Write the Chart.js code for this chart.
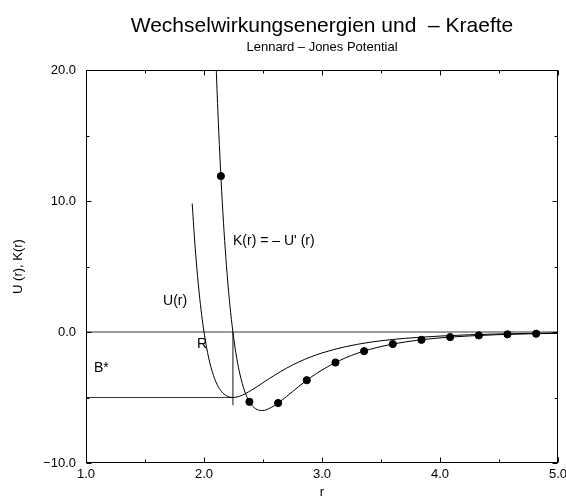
<!DOCTYPE html>
<html><head><meta charset="utf-8">
<script src="https://cdn.jsdelivr.net/npm/chart.js@4"></script>
<style>html,body{margin:0;padding:0;background:#fff}</style>
</head><body>
<canvas id="c" width="566" height="498"></canvas>
<script>
// ---- data ----
const rU    = [1.90,1.92,1.94,1.96,1.98,2.00,2.02,2.04,2.06,2.08,2.10,2.12,2.14,2.16,2.18,2.20,2.22,2.245,2.27,2.30,2.35,2.40,2.45,2.50,2.55,2.60,2.70,2.80,2.90,3.00,3.20,3.40,3.60,3.80,4.00,4.25,4.50,4.75,5.00];
const uVals = [9.81,7.09,4.81,2.91,1.32,0.00,-1.09,-1.99,-2.72,-3.31,-3.79,-4.16,-4.45,-4.66,-4.81,-4.92,-4.98,-5.00,-4.98,-4.91,-4.71,-4.45,-4.17,-3.87,-3.57,-3.29,-2.76,-2.30,-1.92,-1.60,-1.12,-0.79,-0.57,-0.42,-0.31,-0.21,-0.15,-0.11,-0.08];
const rK    = [2.08,2.10,2.12,2.14,2.16,2.18,2.20,2.22,2.245,2.27,2.30,2.35,2.40,2.45,2.50,2.55,2.60,2.70,2.80,2.90,3.00,3.20,3.40,3.60,3.80,4.00,4.25,4.50,4.75,5.00];
const kVals = [26.47,21.0,16.35,12.43,9.12,6.32,3.97,2.00,0.00,-1.59,-3.05,-4.66,-5.53,-5.92,-5.99,-5.85,-5.60,-4.92,-4.18,-3.49,-2.90,-1.97,-1.34,-0.92,-0.64,-0.45,-0.30,-0.20,-0.14,-0.10];
const rDots = [2.143,2.385,2.628,2.871,3.114,3.357,3.600,3.843,4.086,4.329,4.572,4.815];
const kDots = [11.9,-5.33,-5.42,-3.68,-2.33,-1.46,-0.92,-0.60,-0.39,-0.26,-0.18,-0.13];
const rEq = 2.245;      // position of the minimum (R*)
const bStar = -5.0;     // depth of the well (B*)
const zeroLineX = [1.0, 5.0];
const bStarLineX = [1.0, rEq];
const rEqLineY = [0.0, -5.6];
const xMajor = [1,2,3,4,5], xMinor = [1.5,2.5,3.5,4.5];
const yMajor = [-10,0,10,20], yMinor = [-5,5,15];
const titleText = "Wechselwirkungsenergien und  \u2013 Kraefte";
const subtitleText = "Lennard \u2013 Jones Potential";
const xTitle = "r", yTitle = "U (r), K(r)";
const labels = [
  {t:"K(r) = \u2013 U' (r)", x:2.246, y:6.64},
  {t:"U(r)", x:1.653, y:2.06},
  {t:"R", x:1.941, y:-1.22},
  {t:"B*", x:1.068, y:-3.05}
];

const FONT = "'Liberation Sans', Arial, Helvetica, sans-serif";
const pts = (xs, ys) => xs.map((v,i)=>({x:v, y:ys[i]}));

const framePlugin = {
  id:'frame',
  afterDraw(chart){
    const {ctx, chartArea:a, scales:{x,y}} = chart;
    ctx.save();
    ctx.strokeStyle='#000'; ctx.lineWidth=1;
    const L=Math.round(a.left)+0.5, R=Math.round(a.right)-0.5, T=Math.round(a.top)+0.5, B=Math.round(a.bottom)-0.5;
    ctx.strokeRect(L,T,R-L,B-T);
    ctx.beginPath();
    const xt=(v,len)=>{const p=Math.round(x.getPixelForValue(v))+0.5; ctx.moveTo(p,B); ctx.lineTo(p,B-len); ctx.moveTo(p,T); ctx.lineTo(p,T+len);};
    const yt=(v,len)=>{const p=Math.round(y.getPixelForValue(v))+0.5; ctx.moveTo(L,p); ctx.lineTo(L+len,p); ctx.moveTo(R,p); ctx.lineTo(R-len,p);};
    xMajor.forEach(v=>xt(v,5)); xMinor.forEach(v=>xt(v,3));
    yMajor.forEach(v=>yt(v,5)); yMinor.forEach(v=>yt(v,3));
    ctx.stroke();
    ctx.fillStyle='#000';
    const cx=(a.left+a.right)/2;
    ctx.textAlign='center'; ctx.textBaseline='alphabetic';
    ctx.font="21px "+FONT; ctx.fillText(titleText, cx, 32);
    ctx.font="13px "+FONT; ctx.fillText(subtitleText, cx, 51);
    ctx.font="13px "+FONT; ctx.fillText(xTitle, cx, 496);
    ctx.save(); ctx.translate(22,(a.top+a.bottom)/2); ctx.rotate(-Math.PI/2);
    ctx.fillText(yTitle,0,0); ctx.restore();
    ctx.textAlign='left'; ctx.font="14px "+FONT;
    labels.forEach(l=>ctx.fillText(l.t, x.getPixelForValue(l.x), y.getPixelForValue(l.y)));
    ctx.restore();
  }
};

const refStyle = {showLine:true, pointRadius:0, borderColor:'#3a3a3a', borderWidth:1.2, fill:false};
new Chart(document.getElementById('c'), {
  type:'scatter',
  data:{datasets:[
    {label:'K dots', data:pts(rDots,kDots), pointRadius:3.6, pointBackgroundColor:'#000', pointBorderColor:'#000', showLine:false},
    {label:'K(r)', data:pts(rK,kVals), showLine:true, pointRadius:0, borderColor:'#000', borderWidth:1, cubicInterpolationMode:'monotone'},
    {label:'U(r)', data:pts(rU,uVals), showLine:true, pointRadius:0, borderColor:'#000', borderWidth:1, cubicInterpolationMode:'monotone'},
    Object.assign({label:'zero', data:pts(zeroLineX,[0,0])}, refStyle),
    Object.assign({label:'B*', data:pts(bStarLineX,[bStar,bStar])}, refStyle),
    Object.assign({label:'R*', data:pts([rEq,rEq],rEqLineY)}, refStyle)
  ]},
  options:{
    responsive:false, animation:false, devicePixelRatio:1,
    layout:{padding:{top:70,right:8,left:0,bottom:0}},
    plugins:{legend:{display:false}, tooltip:{enabled:false}, title:{display:false}},
    scales:{
      x:{type:'linear', min:1, max:5,
         ticks:{stepSize:1, autoSkip:false, maxRotation:0, padding:4, color:'#000', font:{family:FONT,size:13}, callback:v=>v.toFixed(1)},
         grid:{display:false, drawTicks:false}, border:{display:false},
         afterFit(s){s.height=35; s.paddingLeft=0; s.paddingRight=0;}},
      y:{type:'linear', min:-10, max:20,
         ticks:{stepSize:10, padding:10, color:'#000', font:{family:FONT,size:13}, callback:v=>(v<0?'\u2212':'')+Math.abs(v).toFixed(1)},
         grid:{display:false, drawTicks:false}, border:{display:false},
         afterFit(s){s.width=86; s.paddingTop=0; s.paddingBottom=0;}}
    }
  },
  plugins:[framePlugin]
});
</script>
</body></html>
